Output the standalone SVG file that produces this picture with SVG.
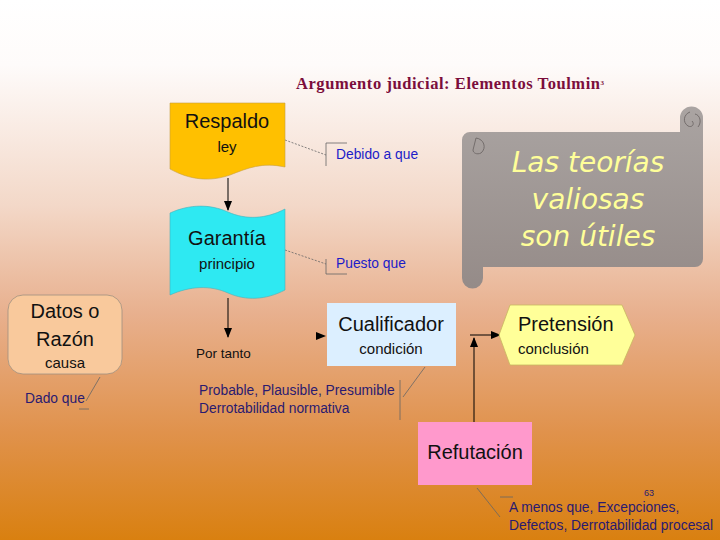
<svg xmlns="http://www.w3.org/2000/svg" width="720" height="540" viewBox="0 0 720 540">
<defs>
<linearGradient id="bg" x1="0" y1="0" x2="0" y2="1">
<stop offset="0" stop-color="#ffffff"/>
<stop offset="0.12" stop-color="#fefbfa"/>
<stop offset="0.38" stop-color="#f3d8c8"/>
<stop offset="0.58" stop-color="#e8b08e"/>
<stop offset="0.8" stop-color="#e0924c"/>
<stop offset="1" stop-color="#d98010"/>
</linearGradient>
<linearGradient id="scroll" x1="0" y1="0" x2="0" y2="1">
<stop offset="0" stop-color="#aaa4a2"/>
<stop offset="1" stop-color="#958b88"/>
</linearGradient>
<marker id="arr" markerWidth="10" markerHeight="10" refX="9" refY="5" orient="auto" markerUnits="userSpaceOnUse">
<path d="M0,1 L10,5 L0,9 Z" fill="#000"/>
</marker>
<style>
.lbl{font-family:"Liberation Sans",Arial,sans-serif;fill:#111;text-anchor:middle}
.big{font-size:20px}
.sm{font-size:15px}
.note{font-family:"Liberation Sans",Arial,sans-serif;font-size:13.8px;fill:#2a1a70}
.blue{fill:#1c1cc8}
.line{stroke:#000;stroke-width:1;fill:none}
.thin{stroke:#666;stroke-width:0.8;fill:none}
.dot{stroke:#666;stroke-width:0.8;fill:none;stroke-dasharray:2 1.5}
</style>
</defs>
<rect width="720" height="540" fill="url(#bg)"/>
<text x="296" y="89" font-family="Liberation Serif,Times New Roman,serif" font-weight="bold" font-size="16.5" fill="#7b0e3c"><tspan textLength="304" lengthAdjust="spacing">Argumento judicial: Elementos Toulmin</tspan><tspan font-size="7" dy="-4">3</tspan></text>

<g id="scroll-note">
<path d="M680,132 V118 A11,11 0 0 1 703,118 V259 A8,8 0 0 1 695,267 H483 V278 A10.5,10.5 0 0 1 462,278 V140 A8,8 0 0 1 470,132 Z" fill="url(#scroll)"/>
<path d="M476,138 C484,139 487,148 481,153 C477,155 473,153 473,150 Z" fill="none" stroke="#6e6866" stroke-width="0.9"/>
<path d="M690,112 C684,114 682,122 688,126 C692,128 695,124 692,121 M695,114 C700,115 702,122 698,127" fill="none" stroke="#6e6866" stroke-width="0.9"/>
<g font-family="DejaVu Sans,sans-serif" font-style="italic" font-size="28" fill="#ffff99" text-anchor="middle">
<text x="588" y="172">Las teorías</text>
<text x="588" y="209">valiosas</text>
<text x="588" y="246">son útiles</text>
</g>
</g>

<g id="connectors">
<line x1="228" y1="178" x2="228" y2="210" class="line" marker-end="url(#arr)"/>
<line x1="228" y1="298" x2="228" y2="337" class="line" marker-end="url(#arr)"/>
<path d="M316,332 L326,336 L316,340 Z" fill="#000"/>
<line x1="474" y1="422" x2="474" y2="338" class="line" marker-end="url(#arr)"/>
<line x1="470" y1="335" x2="500" y2="335" class="line" marker-end="url(#arr)"/>
<line x1="285" y1="140" x2="326" y2="155" class="dot"/>
<path d="M347,143 H326 V166" class="thin"/>
<line x1="285" y1="250" x2="326" y2="264" class="dot"/>
<path d="M326,259 V274 H347" class="thin"/>
<line x1="100" y1="377" x2="86" y2="401" class="thin"/>
<line x1="79" y1="409" x2="89" y2="409" class="thin"/>
<line x1="425" y1="367" x2="403" y2="397" class="thin"/>
<line x1="400" y1="380" x2="400" y2="420" class="thin"/>
<line x1="477" y1="488" x2="500" y2="517" class="thin"/>
<line x1="500" y1="497" x2="513" y2="497" class="thin"/>
</g>

<g id="respaldo">
<path d="M170,103 H285 V167 C262,162 248,168 230,175 C210,182 190,180 170,169 Z" fill="#ffc000" stroke="#c8a040" stroke-width="0.6"/>
<text x="227" y="128" class="lbl big">Respaldo</text>
<text x="227" y="152" class="lbl sm">ley</text>
</g>

<g id="garantia">
<path d="M170,213 C190,204 210,204 228,212 C246,220 266,219 285,209 V290 C266,300 246,301 228,293 C210,285 190,286 170,295 Z" fill="#2ee9f2" stroke="#4ab0b8" stroke-width="0.6"/>
<text x="227" y="245" class="lbl big">Garantía</text>
<text x="227" y="269" class="lbl sm">principio</text>
</g>

<g id="por-tanto">
<text x="196" y="358" font-family="Liberation Sans,Arial,sans-serif" font-size="13.5" fill="#111">Por tanto</text>
</g>

<g id="cualificador">
<rect x="327" y="303" width="129" height="63" fill="#dcefff"/>
<text x="391" y="331" class="lbl big">Cualificador</text>
<text x="391" y="354" class="lbl sm">condición</text>
</g>

<g id="pretension">
<path d="M510,305 H622 L635,335 L622,365 H510 L499,335 Z" fill="#ffff99" stroke="#c8b860" stroke-width="0.8"/>
<text x="518" y="331" font-family="Liberation Sans,Arial,sans-serif" font-size="20" fill="#111">Pretensión</text>
<text x="518" y="354" font-family="Liberation Sans,Arial,sans-serif" font-size="15" fill="#111">conclusión</text>
</g>

<g id="refutacion">
<rect x="418" y="422" width="114" height="63" fill="#ff99cc"/>
<text x="475" y="459" class="lbl big">Refutación</text>
</g>

<g id="datos">
<rect x="8" y="295" width="114" height="79" rx="15" fill="#f9c99c" stroke="#a09080" stroke-width="0.8"/>
<text x="65" y="318" class="lbl big">Datos o</text>
<text x="65" y="346" class="lbl big">Razón</text>
<text x="65" y="368" class="lbl sm">causa</text>
</g>

<g id="notes">
<text x="336" y="159" class="note blue">Debido a que</text>
<text x="336" y="268" class="note blue">Puesto que</text>
<text x="25" y="403" class="note">Dado que</text>
<text x="199" y="395" class="note">Probable, Plausible, Presumible</text>
<text x="199" y="413" class="note">Derrotabilidad normativa</text>
<text x="509" y="512" class="note">A menos que, Excepciones,</text>
<text x="509" y="530" class="note">Defectos, Derrotabilidad procesal</text>
<text x="644" y="496" font-family="Liberation Sans,Arial,sans-serif" font-size="9" fill="#2a1a70">63</text>
</g>
</svg>
